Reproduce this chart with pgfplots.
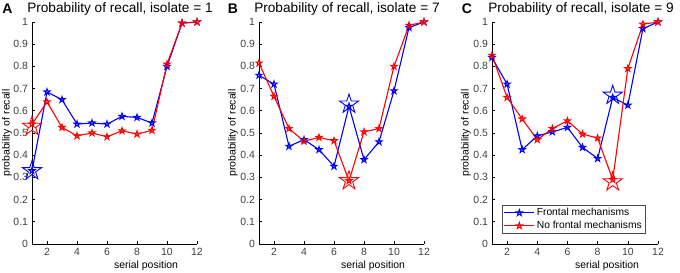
\documentclass[border=0pt]{standalone}
\usepackage{pgfplots}
\pgfplotsset{compat=1.18}
\usepackage{fontspec}
\setmainfont{Liberation Sans}

\pgfdeclareplotmark{pent}{%
 \pgfpathmoveto{\pgfpointpolar{90}{\pgfplotmarksize}}%
 \pgfpathlineto{\pgfpointpolar{126}{0.382*\pgfplotmarksize}}%
 \pgfpathlineto{\pgfpointpolar{162}{\pgfplotmarksize}}%
 \pgfpathlineto{\pgfpointpolar{198}{0.382*\pgfplotmarksize}}%
 \pgfpathlineto{\pgfpointpolar{234}{\pgfplotmarksize}}%
 \pgfpathlineto{\pgfpointpolar{270}{0.382*\pgfplotmarksize}}%
 \pgfpathlineto{\pgfpointpolar{306}{\pgfplotmarksize}}%
 \pgfpathlineto{\pgfpointpolar{342}{0.382*\pgfplotmarksize}}%
 \pgfpathlineto{\pgfpointpolar{18}{\pgfplotmarksize}}%
 \pgfpathlineto{\pgfpointpolar{54}{0.382*\pgfplotmarksize}}%
 \pgfpathclose
 \pgfusepathqstroke}

\definecolor{mblue}{RGB}{0,0,255}
\definecolor{mred}{RGB}{255,0,0}

\pgfplotsset{
  panel/.style={
    scale only axis, width=165bp, height=222bp,
    anchor=south west,
    xmin=1, xmax=12, ymin=0, ymax=1,
    xtick={2,4,6,8,10,12},
    ytick={0,0.1,0.2,0.3,0.4,0.5,0.6,0.7,0.8,0.9,1},
    axis lines=left, axis line style={-, line width=0.8bp, black},
    tick align=inside, major tick length=2.5bp,
    tick style={black, line width=0.6bp},
    /pgf/number format/assume math mode=true,
    tick label style={font=\fontsize{10.5}{12}\selectfont, color=black!75},
    xticklabel style={yshift=-1bp},
    yticklabel style={xshift=-0.5bp},
    clip=false,
  },
  fr/.style={mblue, line width=1.1bp, mark=pent, mark size=3.3bp, mark options={line width=1bp}},
  nf/.style={mred, line width=1.1bp, mark=pent, mark size=3.3bp, mark options={line width=1bp}},
  bigfr/.style={mblue, only marks, mark=pent, mark size=10bp, mark options={line width=0.9bp}, forget plot},
  bignf/.style={mred, only marks, mark=pent, mark size=10bp, mark options={line width=0.9bp}, forget plot},
}

\begin{document}
\begin{tikzpicture}[font=\fontsize{10.5}{12}\selectfont]
\path[use as bounding box] (0,0) rectangle (680bp,273bp);

% Panel A
\begin{axis}[panel, at={(32bp,29bp)}]
\addplot[fr] coordinates {(1,0.33)(2,0.685)(3,0.65)(4,0.54)(5,0.545)(6,0.54)(7,0.575)(8,0.57)(9,0.545)(10,0.80)(11,0.995)(12,1.0)};
\addplot[nf] coordinates {(1,0.54)(2,0.64)(3,0.525)(4,0.487)(5,0.50)(6,0.483)(7,0.51)(8,0.495)(9,0.512)(10,0.81)(11,0.995)(12,1.0)};
\addplot[bigfr] coordinates {(1,0.33)};
\addplot[bignf] coordinates {(1,0.53)};
\end{axis}

% Panel B
\begin{axis}[panel, at={(259bp,29bp)}]
\addplot[fr] coordinates {(1,0.76)(2,0.72)(3,0.44)(4,0.47)(5,0.425)(6,0.35)(7,0.62)(8,0.38)(9,0.46)(10,0.69)(11,0.975)(12,1.0)};
\addplot[nf] coordinates {(1,0.815)(2,0.665)(3,0.52)(4,0.463)(5,0.48)(6,0.465)(7,0.285)(8,0.505)(9,0.52)(10,0.80)(11,0.985)(12,1.0)};
\addplot[bigfr] coordinates {(7,0.63)};
\addplot[bignf] coordinates {(7,0.285)};
\end{axis}

% Panel C
\begin{axis}[panel, at={(492bp,29bp)}, width=166bp,
  legend style={at={(10bp,10bp)}, anchor=south west, draw=black!70, line width=0.5bp,
    font=\fontsize{10.3}{11}\selectfont, inner sep=1.5bp, row sep=0bp, cells={anchor=west}},
  legend image code/.code={\draw[mark repeat=2,mark phase=2,#1] plot coordinates {(0bp,0bp)(15bp,0bp)(30bp,0bp)};}]
\addplot[fr] coordinates {(1,0.84)(2,0.72)(3,0.425)(4,0.487)(5,0.505)(6,0.525)(7,0.435)(8,0.385)(9,0.66)(10,0.625)(11,0.97)(12,1.0)};
\addlegendentry{Frontal mechanisms}
\addplot[nf] coordinates {(1,0.85)(2,0.66)(3,0.563)(4,0.47)(5,0.52)(6,0.555)(7,0.495)(8,0.477)(9,0.29)(10,0.79)(11,0.99)(12,1.0)};
\addlegendentry{No frontal mechanisms}
\addplot[bigfr] coordinates {(9,0.67)};
\addplot[bignf] coordinates {(9,0.28)};
\end{axis}

% y labels
\node[rotate=90] at (7bp,140bp) {probability of recall};
\node[rotate=90] at (233bp,140bp) {probability of recall};
\node[rotate=90] at (466bp,140bp) {probability of recall};
% x labels
\node at (146bp,7bp) {serial position};
\node at (373bp,7bp) {serial position};
\node at (607bp,7bp) {serial position};
% titles
\node[font=\fontsize{14}{15}\selectfont\bfseries] at (7.5bp,264bp) {A};
\node[font=\fontsize{14}{15}\selectfont\bfseries] at (233bp,264bp) {B};
\node[font=\fontsize{14}{15}\selectfont\bfseries] at (467bp,264bp) {C};
\node[font=\fontsize{13.7}{15}\selectfont] at (120bp,264bp) {Probability of recall, isolate = 1};
\node[font=\fontsize{13.7}{15}\selectfont] at (347bp,264bp) {Probability of recall, isolate = 7};
\node[font=\fontsize{13.7}{15}\selectfont] at (581bp,264bp) {Probability of recall, isolate = 9};
\end{tikzpicture}
\end{document}
